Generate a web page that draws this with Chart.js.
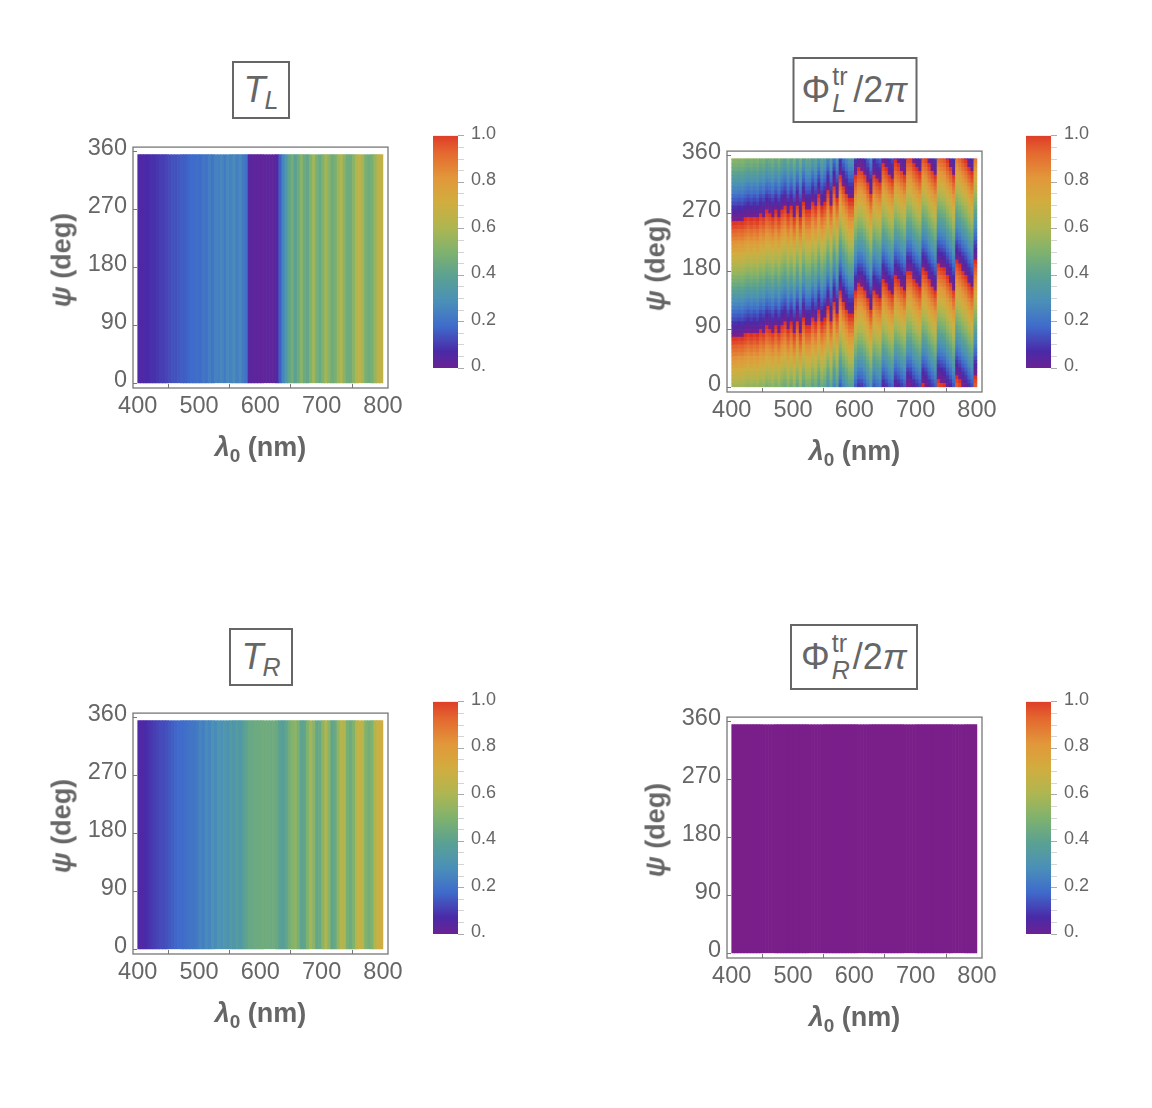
<!DOCTYPE html>
<html>
<head>
<meta charset="utf-8">
<title>Transmission and phase maps</title>
<script src="https://cdn.jsdelivr.net/npm/chart.js@4"></script>
<style>
  body { margin: 0; background: #fff; width: 1152px; height: 1108px; position: relative; overflow: hidden;
         font-family: "Liberation Sans", sans-serif; color: #666; }
  canvas { position: absolute; }
  .axis-title { position: absolute; font-size: 27px; font-weight: bold; white-space: nowrap; transform: translate(-50%, -50%); }
  .axis-title.vertical { transform: translate(-50%, -50%) rotate(-90deg); }
  .axis-title sub { font-size: 19px; line-height: 0; }
  .title-box { position: absolute; box-sizing: border-box; border: 2px solid #666; display: flex; align-items: center;
               justify-content: center; font-size: 36px; white-space: nowrap; transform: translate(-50%, -50%); }
  .title-box .low { font-size: 25px; position: relative; top: 10px; margin-left: -1px; }
  .stack { display: inline-block; position: relative; width: 23px; height: 40px; }
  .stack span, .stack i { position: absolute; left: 2px; font-size: 25px; }
  .stack span { top: -8px; }
  .stack i { top: 19px; }
</style>
</head>
<body>
<script>
// wavelength cell centres (nm)
const lambdaCells = [
  402.5, 407.5, 412.5, 417.5, 422.5, 427.5, 432.5, 437.5, 442.5, 447.5,
  452.5, 457.5, 462.5, 467.5, 472.5, 477.5, 482.5, 487.5, 492.5, 497.5,
  502.5, 507.5, 512.5, 517.5, 522.5, 527.5, 532.5, 537.5, 542.5, 547.5,
  552.5, 557.5, 562.5, 567.5, 572.5, 577.5, 582.5, 587.5, 592.5, 597.5,
  602.5, 607.5, 612.5, 617.5, 622.5, 627.5, 632.5, 637.5, 642.5, 647.5,
  652.5, 657.5, 662.5, 667.5, 672.5, 677.5, 682.5, 687.5, 692.5, 697.5,
  702.5, 707.5, 712.5, 717.5, 722.5, 727.5, 732.5, 737.5, 742.5, 747.5,
  752.5, 757.5, 762.5, 767.5, 772.5, 777.5, 782.5, 787.5, 792.5, 797.5,
];

// psi band centres (deg), each band is 6 deg tall, the last one is cut at psiTop
const psiRows = [
  3, 9, 15, 21, 27, 33, 39, 45, 51, 57, 63, 69, 75, 81, 87, 93, 99, 105, 111, 117,
  123, 129, 135, 141, 147, 153, 159, 165, 171, 177, 183, 189, 195, 201, 207, 213, 219, 225, 231, 237,
  243, 249, 255, 261, 267, 273, 279, 285, 291, 297, 303, 309, 315, 321, 327, 333, 339, 345, 351, 357,
];
const psiTop = 355.6;

const lambdaTicks = [400, 500, 600, 700, 800];
const psiTicks = [0, 90, 180, 270, 360];
const colorbarTicks = [0, 0.05, 0.1, 0.15, 0.2, 0.25, 0.3, 0.35, 0.4, 0.45, 0.5, 0.55, 0.6, 0.65, 0.7, 0.75, 0.8, 0.85, 0.9, 0.95, 1];
const colorbarLabels = { 0: "0.", 0.2: "0.2", 0.4: "0.4", 0.6: "0.6", 0.8: "0.8", 1: "1.0" };

const rainbowStops = ["#7a1f8a", "#4a2aa8", "#3f6bcb", "#4a90b8", "#5aa193", "#7fb26e", "#afb650", "#d1ad3f", "#e2973a", "#e4682f", "#db2a25"];

// T_L per wavelength cell (no psi dependence in the picture)
const transmissionL = [
  0.09, 0.09, 0.10, 0.10, 0.11, 0.11, 0.12, 0.13, 0.13, 0.14,
  0.15, 0.16, 0.16, 0.17, 0.18, 0.18, 0.19, 0.20, 0.20, 0.21,
  0.20, 0.23, 0.22, 0.25, 0.23, 0.26, 0.25, 0.27, 0.24, 0.28,
  0.26, 0.29, 0.25, 0.28, 0.24, 0.22, 0.07, 0.06, 0.06, 0.06,
  0.05, 0.06, 0.06, 0.06, 0.06, 0.08, 0.18, 0.27, 0.34, 0.42,
  0.47, 0.40, 0.45, 0.52, 0.45, 0.43, 0.50, 0.57, 0.48, 0.44,
  0.50, 0.58, 0.52, 0.46, 0.48, 0.56, 0.60, 0.52, 0.46, 0.46,
  0.52, 0.60, 0.64, 0.58, 0.48, 0.46, 0.48, 0.55, 0.63, 0.65,
];

// T_R per wavelength cell
const transmissionR = [
  0.09, 0.09, 0.10, 0.11, 0.12, 0.13, 0.14, 0.15, 0.15, 0.16,
  0.17, 0.18, 0.19, 0.20, 0.20, 0.21, 0.22, 0.23, 0.23, 0.24,
  0.27, 0.25, 0.29, 0.27, 0.31, 0.29, 0.33, 0.30, 0.34, 0.32,
  0.36, 0.33, 0.37, 0.34, 0.38, 0.41, 0.44, 0.44, 0.45, 0.45,
  0.46, 0.46, 0.46, 0.45, 0.46, 0.44, 0.40, 0.38, 0.42, 0.47,
  0.51, 0.53, 0.48, 0.41, 0.42, 0.50, 0.58, 0.52, 0.43, 0.44,
  0.53, 0.60, 0.52, 0.42, 0.44, 0.54, 0.62, 0.60, 0.48, 0.45,
  0.50, 0.62, 0.66, 0.62, 0.50, 0.47, 0.50, 0.60, 0.68, 0.69,
];

// Phi_R/2pi per wavelength cell
const phaseR = [
  0, 0, 0, 0, 0, 0, 0, 0, 0, 0, 0, 0, 0, 0, 0, 0, 0, 0, 0, 0,
  0, 0, 0, 0, 0, 0, 0, 0, 0, 0, 0, 0, 0, 0, 0, 0, 0, 0, 0, 0,
  0, 0, 0, 0, 0, 0, 0, 0, 0, 0, 0, 0, 0, 0, 0, 0, 0, 0, 0, 0,
  0, 0, 0, 0, 0, 0, 0, 0, 0, 0, 0, 0, 0, 0, 0, 0, 0, 0, 0, 0,
];

// Phi_L/2pi in hundredths: one line per wavelength cell, bottom 180 deg of the plot
// (the upper 180 deg look the same in the picture, so these are reused for it)
const phaseLColumns = [
  [58,61,65,68,71,75,78,81,85,88,91,95,98,1,5,8,11,15,18,21,25,28,31,35,38,41,45,48,51,55],
  [58,61,65,68,71,75,78,81,85,88,91,95,98,1,5,8,11,15,18,21,25,28,31,35,38,41,45,48,51,55],
  [57,60,64,67,70,74,77,80,84,87,90,94,97,0,4,7,10,14,17,20,24,27,30,34,37,40,44,47,50,54],
  [58,61,65,68,71,75,78,81,85,88,91,95,98,1,5,8,11,15,18,21,25,28,31,35,38,41,45,48,51,55],
  [56,59,63,66,69,73,76,79,83,86,89,93,96,99,3,6,9,13,16,19,23,26,29,33,36,39,43,46,49,53],
  [54,57,61,64,67,71,74,77,81,84,87,91,94,97,1,4,7,11,14,17,21,24,27,31,34,37,41,44,47,51],
  [56,59,63,66,69,73,76,79,83,86,89,93,96,99,3,6,9,13,16,19,23,26,29,33,36,39,43,46,49,53],
  [54,57,61,64,67,71,74,77,81,84,87,91,94,97,1,4,7,11,14,17,21,24,27,31,34,37,41,44,47,51],
  [56,59,63,66,69,73,76,79,83,86,89,93,96,99,3,6,9,13,16,19,23,26,29,33,36,39,43,46,49,53],
  [52,55,59,62,65,69,72,75,79,82,85,89,92,95,99,2,5,9,12,15,19,22,25,29,32,35,39,42,45,49],
  [54,57,61,64,67,71,74,77,81,84,87,91,94,97,1,4,7,11,14,17,21,24,27,31,34,37,41,44,47,51],
  [49,52,56,59,62,66,69,72,76,79,82,86,89,92,96,99,2,6,9,12,16,19,22,26,29,32,36,39,42,46],
  [51,54,58,61,64,68,71,74,78,81,84,88,91,94,98,1,4,8,11,14,18,21,24,28,31,34,38,41,44,48],
  [54,57,61,64,67,71,74,77,81,84,87,91,94,97,1,4,7,11,14,17,21,24,27,31,34,37,41,44,47,51],
  [49,52,56,59,62,66,69,72,76,79,82,86,89,92,96,99,2,6,9,12,16,19,22,26,29,32,36,39,42,46],
  [54,57,61,64,67,71,74,77,81,84,87,91,94,97,1,4,7,11,14,17,21,24,27,31,34,37,41,44,47,51],
  [48,51,55,58,61,65,68,71,75,78,81,85,88,91,95,98,1,5,8,11,15,18,21,25,28,31,35,38,41,45],
  [45,48,52,55,58,62,65,68,72,75,78,82,85,88,92,95,98,2,5,8,12,15,18,22,25,28,32,35,38,42],
  [52,55,59,62,65,69,72,75,79,82,85,89,92,95,99,2,5,9,12,15,19,22,25,29,32,35,39,42,45,49],
  [46,49,53,56,59,63,66,69,73,76,79,83,86,89,93,96,99,3,6,9,13,16,19,23,26,29,33,36,39,43],
  [54,57,61,64,67,71,74,77,81,84,87,91,94,97,1,4,7,11,14,17,21,24,27,31,34,37,41,44,47,51],
  [43,46,50,53,56,60,63,66,70,73,76,80,83,86,90,93,96,0,3,6,10,13,16,20,23,26,30,33,36,40],
  [54,57,61,64,67,71,74,77,81,84,87,91,94,97,1,4,7,11,14,17,21,24,27,31,34,37,41,44,47,51],
  [41,44,48,51,54,58,61,64,68,71,74,78,81,84,88,91,94,98,1,4,8,11,14,18,21,24,28,31,34,38],
  [48,51,55,58,61,65,68,71,75,78,81,85,88,91,95,98,1,5,8,11,15,18,21,25,28,31,35,38,41,45],
  [48,51,55,58,61,65,68,71,75,78,81,85,88,91,95,98,1,5,8,11,15,18,21,25,28,31,35,38,41,45],
  [41,44,48,51,54,58,61,64,68,71,74,78,81,84,88,91,94,98,1,4,8,11,14,18,21,24,28,31,34,38],
  [46,49,53,56,59,63,66,69,73,76,79,83,86,89,93,96,99,3,6,9,13,16,19,23,26,29,33,36,39,43],
  [36,39,43,46,49,53,56,59,63,66,69,73,76,79,83,86,89,93,96,99,3,6,9,13,16,19,23,26,29,33],
  [46,49,53,56,59,63,66,69,73,76,79,83,86,89,93,96,99,3,6,9,13,16,19,23,26,29,33,36,39,43],
  [42,45,49,52,55,59,62,65,69,72,75,79,82,85,89,92,95,99,2,5,9,12,15,19,22,25,29,32,35,39],
  [31,34,38,41,44,48,51,54,58,61,64,68,71,74,78,81,84,88,91,94,98,1,4,8,11,14,18,21,24,28],
  [43,46,50,53,56,60,63,66,70,73,76,80,83,86,90,93,96,0,3,6,10,13,16,20,23,26,30,33,36,40],
  [27,30,34,37,40,44,47,50,54,57,60,64,67,70,74,77,80,84,87,90,94,97,0,4,7,10,14,17,20,24],
  [38,41,45,48,51,55,58,61,65,68,71,75,78,81,85,88,91,95,98,1,5,8,11,15,18,21,25,28,31,35],
  [18,21,25,28,31,35,38,41,45,48,51,55,58,61,65,68,71,75,78,81,85,88,91,95,98,1,5,8,11,15],
  [27,30,34,37,40,44,47,50,54,57,60,64,67,70,74,77,80,84,87,90,94,97,0,4,7,10,14,17,20,24],
  [33,36,40,43,46,50,53,56,60,63,66,70,73,76,80,83,86,90,93,96,0,3,6,10,13,16,20,23,26,30],
  [39,42,46,49,52,56,59,62,66,69,72,76,79,82,86,89,92,96,99,2,6,9,12,16,19,22,26,29,32,36],
  [39,42,46,49,52,56,59,62,66,69,72,76,79,82,86,89,92,96,99,2,6,9,12,16,19,22,26,29,32,36],
  [18,21,25,28,31,35,38,41,45,48,51,55,58,61,65,68,71,75,78,81,85,88,91,95,98,1,5,8,11,15],
  [12,15,19,22,25,29,32,35,39,42,45,49,52,55,59,62,65,69,72,75,79,82,85,89,92,95,99,2,5,9],
  [13,16,20,23,26,30,33,36,40,43,46,50,53,56,60,63,66,70,73,76,80,83,86,90,93,96,0,3,6,10],
  [17,20,24,27,30,34,37,40,44,47,50,54,57,60,64,67,70,74,77,80,84,87,90,94,97,0,4,7,10,14],
  [24,27,31,34,37,41,44,47,51,54,57,61,64,67,71,74,77,81,84,87,91,94,97,1,4,7,11,14,17,21],
  [33,36,40,43,46,50,53,56,60,63,66,70,73,76,80,83,86,90,93,96,0,3,6,10,13,16,20,23,26,30],
  [17,20,24,27,30,34,37,40,44,47,50,54,57,60,64,67,70,74,77,80,84,87,90,94,97,0,4,7,10,14],
  [21,24,28,31,34,38,41,44,48,51,54,58,61,64,68,71,74,78,81,84,88,91,94,98,1,4,8,11,14,18],
  [24,27,31,34,37,41,44,47,51,54,57,61,64,67,71,74,77,81,84,87,91,94,97,1,4,7,11,14,17,21],
  [8,11,15,18,21,25,28,31,35,38,41,45,48,51,55,58,61,65,68,71,75,78,81,85,88,91,95,98,1,5],
  [12,15,19,22,25,29,32,35,39,42,45,49,52,55,59,62,65,69,72,75,79,82,85,89,92,95,99,2,5,9],
  [17,20,24,27,30,34,37,40,44,47,50,54,57,60,64,67,70,74,77,80,84,87,90,94,97,0,4,7,10,14],
  [21,24,28,31,34,38,41,44,48,51,54,58,61,64,68,71,74,78,81,84,88,91,94,98,1,4,8,11,14,18],
  [6,9,13,16,19,23,26,29,33,36,39,43,46,49,53,56,59,63,66,69,73,76,79,83,86,89,93,96,99,3],
  [9,12,16,19,22,26,29,32,36,39,42,46,49,52,56,59,62,66,69,72,76,79,82,86,89,92,96,99,2,6],
  [13,16,20,23,26,30,33,36,40,43,46,50,53,56,60,63,66,70,73,76,80,83,86,90,93,96,0,3,6,10],
  [17,20,24,27,30,34,37,40,44,47,50,54,57,60,64,67,70,74,77,80,84,87,90,94,97,0,4,7,10,14],
  [1,4,8,11,14,18,21,24,28,31,34,38,41,44,48,51,54,58,61,64,68,71,74,78,81,84,88,91,94,98],
  [2,5,9,12,15,19,22,25,29,32,35,39,42,45,49,52,55,59,62,65,69,72,75,79,82,85,89,92,95,99],
  [8,11,15,18,21,25,28,31,35,38,41,45,48,51,55,58,61,65,68,71,75,78,81,85,88,91,95,98,1,5],
  [12,15,19,22,25,29,32,35,39,42,45,49,52,55,59,62,65,69,72,75,79,82,85,89,92,95,99,2,5,9],
  [16,19,23,26,29,33,36,39,43,46,49,53,56,59,63,66,69,73,76,79,83,86,89,93,96,99,3,6,9,13],
  [99,2,6,9,12,16,19,22,26,29,32,36,39,42,46,49,52,56,59,62,66,69,72,76,79,82,86,89,92,96],
  [2,5,9,12,15,19,22,25,29,32,35,39,42,45,49,52,55,59,62,65,69,72,75,79,82,85,89,92,95,99],
  [8,11,15,18,21,25,28,31,35,38,41,45,48,51,55,58,61,65,68,71,75,78,81,85,88,91,95,98,1,5],
  [13,16,20,23,26,30,33,36,40,43,46,50,53,56,60,63,66,70,73,76,80,83,86,90,93,96,0,3,6,10],
  [18,21,25,28,31,35,38,41,45,48,51,55,58,61,65,68,71,75,78,81,85,88,91,95,98,1,5,8,11,15],
  [95,98,2,5,8,12,15,18,22,25,28,32,35,38,42,45,48,52,55,58,62,65,68,72,75,78,82,85,88,92],
  [97,0,4,7,10,14,17,20,24,27,30,34,37,40,44,47,50,54,57,60,64,67,70,74,77,80,84,87,90,94],
  [99,2,6,9,12,16,19,22,26,29,32,36,39,42,46,49,52,56,59,62,66,69,72,76,79,82,86,89,92,96],
  [5,8,12,15,18,22,25,28,32,35,38,42,45,48,52,55,58,62,65,68,72,75,78,82,85,88,92,95,98,2],
  [10,13,17,20,23,27,30,33,37,40,43,47,50,53,57,60,63,67,70,73,77,80,83,87,90,93,97,0,3,7],
  [17,20,24,27,30,34,37,40,44,47,50,54,57,60,64,67,70,74,77,80,84,87,90,94,97,0,4,7,10,14],
  [92,95,99,2,5,9,12,15,19,22,25,29,32,35,39,42,45,49,52,55,59,62,65,69,72,75,79,82,85,89],
  [96,99,3,6,9,13,16,19,23,26,29,33,36,39,43,46,49,53,56,59,63,66,69,73,76,79,83,86,89,93],
  [1,4,8,11,14,18,21,24,28,31,34,38,41,44,48,51,54,58,61,64,68,71,74,78,81,84,88,91,94,98],
  [5,8,12,15,18,22,25,28,32,35,38,42,45,48,52,55,58,62,65,68,72,75,78,82,85,88,92,95,98,2],
  [11,14,18,21,24,28,31,34,38,41,44,48,51,54,58,61,64,68,71,74,78,81,84,88,91,94,98,1,4,8],
  [16,19,23,26,29,33,36,39,43,46,49,53,56,59,63,66,69,73,76,79,83,86,89,93,96,99,3,6,9,13],
  [92,95,99,2,5,9,12,15,19,22,25,29,32,35,39,42,45,49,52,55,59,62,65,69,72,75,79,82,85,89],
];

const TEXT_COLOR = "#666666";
const FRAME_COLOR = "#777777";
const FONT = "'Liberation Sans', sans-serif";

function hexToRgb(hex) {
  return [1, 3, 5].map((i) => parseInt(hex.slice(i, i + 2), 16));
}

function rainbow(v) {
  const pos = Math.min(Math.max(v, 0), 1) * (rainbowStops.length - 1);
  const i = Math.min(Math.floor(pos), rainbowStops.length - 2);
  const a = hexToRgb(rainbowStops[i]);
  const b = hexToRgb(rainbowStops[i + 1]);
  const t = pos - i;
  const c = a.map((ch, k) => Math.round(ch + (b[k] - ch) * t));
  return `rgb(${c[0]},${c[1]},${c[2]})`;
}

// one dataset of floating bars spanning the whole psi range
function fullHeightDatasets(values) {
  return [{
    data: lambdaCells.map((x) => ({ x, y: [0, psiTop] })),
    backgroundColor: values.map(rainbow),
  }];
}

// one dataset of floating bars per psi band
function bandDatasets(columns) {
  return psiRows.map((psi, r) => ({
    data: lambdaCells.map((x) => ({ x, y: [psi - 3, Math.min(psi + 3, psiTop)] })),
    backgroundColor: columns.map((col) => rainbow(col[r % col.length] / 100)),
  }));
}

const framePlugin = {
  id: "plotFrame",
  afterDraw(chart) {
    const { ctx, chartArea: a } = chart;
    ctx.save();
    ctx.strokeStyle = FRAME_COLOR;
    ctx.lineWidth = 1.3;
    ctx.strokeRect(a.left, a.top, a.width, a.height);
    ctx.restore();
  },
};

function addCanvas(left, top, width, height) {
  const canvas = document.createElement("canvas");
  canvas.width = width;
  canvas.height = height;
  canvas.style.left = left + "px";
  canvas.style.top = top + "px";
  document.body.appendChild(canvas);
  return canvas;
}

function addPanel(frameX, frameY, datasets) {
  const canvas = addCanvas(frameX - 100, frameY - 10, 390, 340);
  new Chart(canvas, {
    type: "bar",
    data: { datasets },
    plugins: [framePlugin],
    options: {
      responsive: false,
      animation: false,
      events: [],
      devicePixelRatio: 1,
      layout: { padding: { left: 0, top: 10, right: 35, bottom: 15 } },
      plugins: { legend: { display: false }, tooltip: { enabled: false } },
      datasets: { bar: { grouped: false, barPercentage: 1, categoryPercentage: 1, borderWidth: 0 } },
      scales: {
        x: {
          type: "linear",
          offset: false,
          min: 392.3,
          max: 808.3,
          afterFit: (scale) => { scale.height = 60; },
          afterBuildTicks: (scale) => { scale.ticks = lambdaTicks.map((value) => ({ value })); },
          border: { display: false },
          grid: { drawOnChartArea: false, drawTicks: true, tickLength: -4, color: FRAME_COLOR },
          ticks: { color: TEXT_COLOR, font: { family: FONT, size: 23.5 }, padding: 8, maxRotation: 0, autoSkip: false },
        },
        y: {
          min: -7.3,
          max: 367.4,
          afterFit: (scale) => { scale.width = 100; },
          afterBuildTicks: (scale) => { scale.ticks = psiTicks.map((value) => ({ value })); },
          border: { display: false },
          grid: { drawOnChartArea: false, drawTicks: true, tickLength: -4, color: FRAME_COLOR },
          ticks: { color: TEXT_COLOR, font: { family: FONT, size: 23.5 }, padding: 10, labelOffset: -3, autoSkip: false },
        },
      },
    },
  });
}

function addColorbar(barX, barY) {
  const canvas = addCanvas(barX - 10, barY - 10, 100, 268);
  const ctx = canvas.getContext("2d");
  const gradient = ctx.createLinearGradient(0, barY - (barY - 10) + 248, 0, 10);
  rainbowStops.forEach((c, i) => gradient.addColorStop(i / (rainbowStops.length - 1), c));
  new Chart(canvas, {
    type: "bar",
    data: { labels: [""], datasets: [{ data: [[0, 1]], backgroundColor: gradient, borderWidth: 0, barPercentage: 1, categoryPercentage: 1 }] },
    options: {
      responsive: false,
      animation: false,
      events: [],
      devicePixelRatio: 1,
      layout: { padding: { left: 10, top: 10, right: 0, bottom: 10 } },
      plugins: { legend: { display: false }, tooltip: { enabled: false } },
      scales: {
        x: { display: false },
        y: {
          position: "right",
          min: 0,
          max: 1,
          afterFit: (scale) => { scale.width = 65; },
          afterBuildTicks: (scale) => { scale.ticks = colorbarTicks.map((value) => ({ value })); },
          border: { display: false },
          grid: {
            drawOnChartArea: false,
            tickLength: 6,
            color: (c) => (colorbarLabels[c.tick.value] ? "#aaaaaa" : "#d5d5d5"),
          },
          ticks: {
            color: TEXT_COLOR,
            font: { family: FONT, size: 18 },
            padding: 7,
            labelOffset: -2,
            autoSkip: false,
            callback: (value) => colorbarLabels[value] || "",
          },
        },
      },
    },
  });
}

function addText(className, left, top, html, width, height) {
  const el = document.createElement("div");
  el.className = className;
  el.style.left = left + "px";
  el.style.top = top + "px";
  if (width) {
    el.style.width = width + "px";
    el.style.height = height + "px";
  }
  el.innerHTML = html;
  document.body.appendChild(el);
}

function addPanelLabels(frameX, frameY) {
  addText("axis-title", frameX + 127.5, frameY + 314, "<i>λ</i><sub>0</sub> (nm)");
  addText("axis-title vertical", frameX - 71, frameY + 127, "<i>ψ</i> (deg)");
}

const phaseTitle = (letter) => `Φ<span class="stack"><span>tr</span><i>${letter}</i></span>/2<i>π</i>`;

addPanel(133, 133, fullHeightDatasets(transmissionL));
addPanel(727, 137, bandDatasets(phaseLColumns));
addPanel(133, 699, fullHeightDatasets(transmissionR));
addPanel(727, 703, fullHeightDatasets(phaseR));

addColorbar(433, 128);
addColorbar(1026, 128);
addColorbar(433, 694);
addColorbar(1026, 694);

addPanelLabels(133, 133);
addPanelLabels(727, 137);
addPanelLabels(133, 699);
addPanelLabels(727, 703);

addText("title-box", 261, 90, '<i>T</i><i class="low">L</i>', 58, 58);
addText("title-box", 854.5, 90, phaseTitle("L"), 125, 66);
addText("title-box", 261, 657, '<i>T</i><i class="low">R</i>', 64, 58);
addText("title-box", 854, 657, phaseTitle("R"), 128, 66);
</script>
</body>
</html>
